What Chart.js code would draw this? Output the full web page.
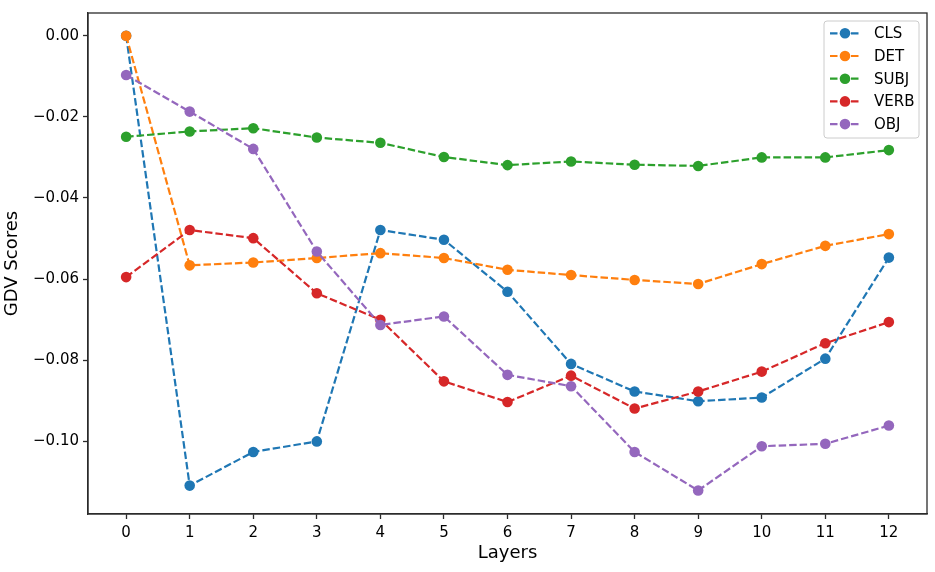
<!DOCTYPE html>
<html>
<head>
<meta charset="utf-8">
<script src="https://cdn.jsdelivr.net/npm/chart.js@4.4.1/dist/chart.umd.min.js"></script>
<style>
	html, body { margin: 0; padding: 0; background: #ffffff; }
	#wrap { width: 935px; height: 572px; }
</style>
</head>
<body>
<div id="wrap"><canvas id="gdv"></canvas></div>
<script>
//DATA
var layers = [0, 1, 2, 3, 4, 5, 6, 7, 8, 9, 10, 11, 12];
var xTickLabels = ['0', '1', '2', '3', '4', '5', '6', '7', '8', '9', '10', '11', '12'];
var yTickValues = [0, -0.02, -0.04, -0.06, -0.08, -0.10];
var yTickLabels = ['0.00', '\u22120.02', '\u22120.04', '\u22120.06', '\u22120.08', '\u22120.10'];
var seriesNames = ['CLS', 'DET', 'SUBJ', 'VERB', 'OBJ'];

var clsScores  = [0.0000, -0.1109, -0.1026, -0.1000, -0.0479, -0.0503, -0.0631, -0.0809, -0.0877, -0.0901, -0.0892, -0.0796, -0.0547];
var detScores  = [0.0000, -0.0566, -0.0559, -0.0548, -0.0536, -0.0548, -0.0577, -0.0590, -0.0602, -0.0612, -0.0563, -0.0518, -0.0489];
var subjScores = [-0.0249, -0.0236, -0.0228, -0.0251, -0.0264, -0.0299, -0.0319, -0.0310, -0.0318, -0.0321, -0.0300, -0.0300, -0.0282];
var verbScores = [-0.0595, -0.0479, -0.0499, -0.0635, -0.0700, -0.0852, -0.0903, -0.0838, -0.0919, -0.0877, -0.0828, -0.0758, -0.0706];
var objScores  = [-0.0097, -0.0187, -0.0279, -0.0532, -0.0713, -0.0692, -0.0836, -0.0864, -0.1026, -0.1121, -0.1012, -0.1006, -0.0961];

var allScores = [clsScores, detScores, subjScores, verbScores, objScores];
var colors = ['#1f77b4', '#ff7f0e', '#2ca02c', '#d62728', '#9467bd'];

var axisColor = '#2b2b2b';
var fontFamily = '"DejaVu Sans", sans-serif';

//BUILD DATASETS
var datasets = new Array();
for(i=0;i<seriesNames.length;i++){
	var pts = new Array();
	for(var j=0;j<layers.length;j++){
		pts[j] = {x: layers[j], y: allScores[i][j]};
	}
	datasets[i] = {
		label: seriesNames[i],
		data: pts,
		borderColor: colors[i],
		backgroundColor: colors[i],
		borderWidth: 2.2,
		borderDash: [7.5, 3],
		pointRadius: 5.3,
		pointHoverRadius: 5.3,
		pointBorderWidth: 0,
		pointBackgroundColor: colors[i],
		tension: 0,
		order: seriesNames.length - i // ultimo encima, como matplotlib
	};
}

// caja alrededor del area del grafico
var frameBox = {
	id: 'frameBox',
	afterDatasetsDraw: function(chart){
		var a = chart.chartArea;
		var c = chart.ctx;
		c.save();
		c.strokeStyle = axisColor;
		c.lineWidth = 1.3;
		c.setLineDash([]);
		c.strokeRect(a.left, a.top, a.right - a.left, a.bottom - a.top);
		c.restore();
	}
};

// leyenda dentro del grafico, arriba a la derecha
var innerLegend = {
	id: 'innerLegend',
	afterDraw: function(chart){
		var a = chart.chartArea;
		var c = chart.ctx;
		var ds = chart.data.datasets;
		var boxW = 95, boxH = 117;
		var bx = a.right - 8 - boxW;
		var by = a.top + 8;
		var rowStep = 22.7;

		c.save();
		c.beginPath();
		c.roundRect(bx, by, boxW, boxH, 3);
		c.fillStyle = 'rgba(255,255,255,0.8)';
		c.fill();
		c.strokeStyle = '#cccccc';
		c.lineWidth = 1;
		c.stroke();

		c.font = '15px ' + fontFamily;
		c.textBaseline = 'middle';
		c.textAlign = 'left';
		for(var k=0;k<ds.length;k++){
			var cy = by + 12.3 + k * rowStep;
			c.strokeStyle = ds[k].borderColor;
			c.lineWidth = 2.2;
			c.setLineDash([7.5, 3]);
			c.beginPath();
			c.moveTo(bx + 6, cy);
			c.lineTo(bx + 36, cy);
			c.stroke();
			c.setLineDash([]);
			c.beginPath();
			c.arc(bx + 21, cy, 5.3, 0, Math.PI * 2);
			c.fillStyle = ds[k].borderColor;
			c.fill();
			c.fillStyle = '#000000';
			c.fillText(ds[k].label, bx + 50, cy + 1);
		}
		c.restore();
	}
};

//PRINT CHART
var ctx = document.getElementById('gdv');

new Chart(ctx, {
	type: 'line',
	data: {
		datasets: datasets
	},
	plugins: [frameBox, innerLegend],
	options: {
		responsive: true,
		maintainAspectRatio: false,
		animation: false,
		events: [],
		layout: {
			padding: {left: 0, right: 8, top: 13, bottom: 0}
		},
		scales: {
			x: {
				type: 'linear',
				min: -0.6,
				max: 12.6,
				afterBuildTicks: function(scale){
					scale.ticks = layers.map(function(v){ return {value: v}; });
				},
				afterFit: function(scale){
					scale.height = 58;
				},
				grid: {
					drawOnChartArea: false,
					drawTicks: true,
					tickLength: 5,
					tickWidth: 1.3,
					color: axisColor
				},
				border: {display: true, color: axisColor, width: 1.3},
				ticks: {
					padding: 5,
					maxRotation: 0,
					autoSkip: false,
					color: '#000000',
					font: {family: fontFamily, size: 15},
					callback: function(value, index){ return xTickLabels[index]; }
				},
				title: {
					display: true,
					text: 'Layers',
					color: '#000000',
					font: {family: fontFamily, size: 18},
					padding: {top: 0, bottom: 8}
				}
			},
			y: {
				type: 'linear',
				min: -0.1179,
				max: 0.0056,
				afterBuildTicks: function(scale){
					scale.ticks = yTickValues.map(function(v){ return {value: v}; });
				},
				afterFit: function(scale){
					scale.width = 88;
				},
				grid: {
					drawOnChartArea: false,
					drawTicks: true,
					tickLength: 5,
					tickWidth: 1.3,
					color: axisColor
				},
				border: {display: true, color: axisColor, width: 1.3},
				ticks: {
					padding: 4,
					autoSkip: false,
					color: '#000000',
					font: {family: fontFamily, size: 15},
					callback: function(value, index){ return yTickLabels[index]; }
				},
				title: {
					display: true,
					text: 'GDV Scores',
					color: '#000000',
					font: {family: fontFamily, size: 18},
					padding: {top: 2, bottom: 0}
				}
			}
		},
		plugins: {
			legend: {display: false},
			tooltip: {enabled: false},
			title: {display: false}
		}
	}
});
</script>
</body>
</html>
